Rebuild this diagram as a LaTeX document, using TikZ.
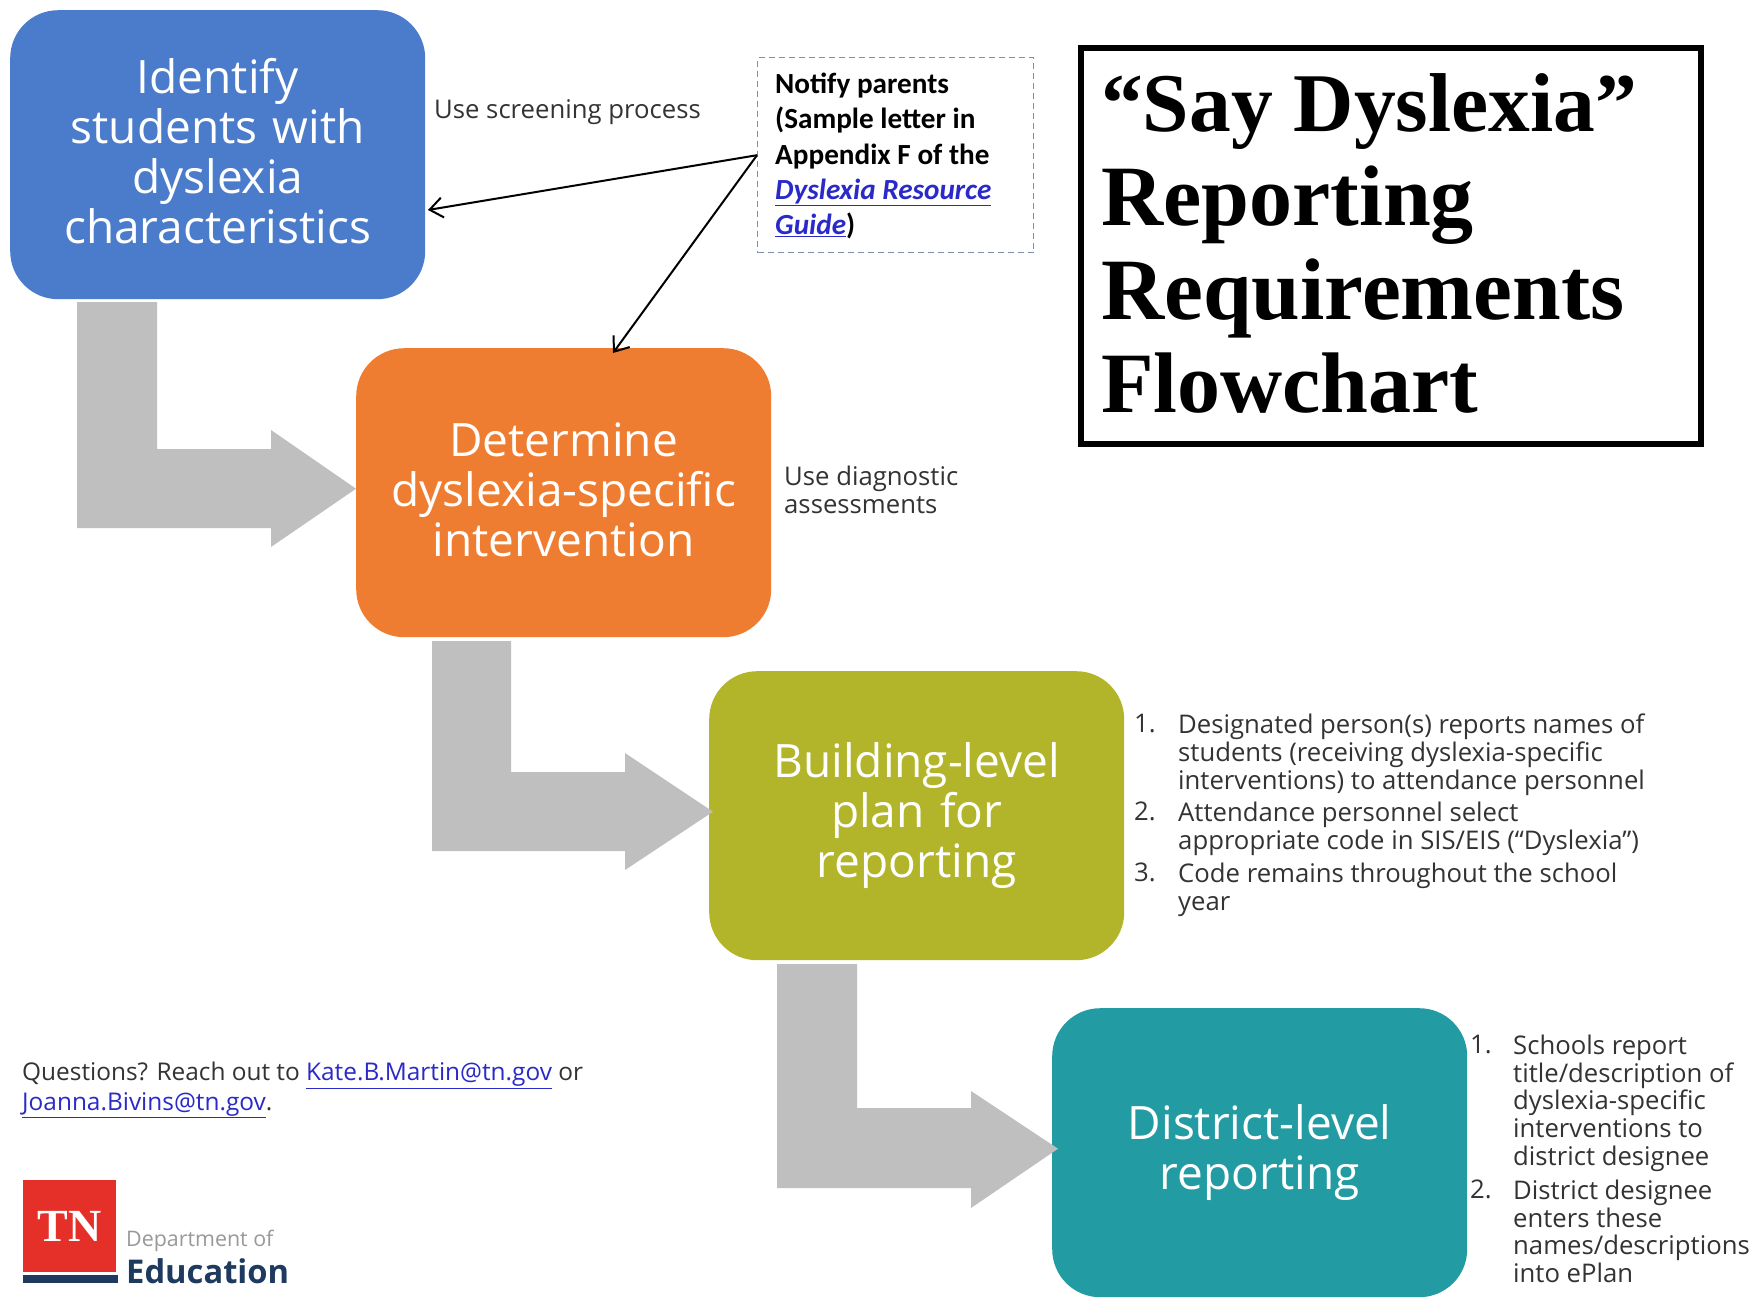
\documentclass[tikz,border=0pt]{standalone}
\usepackage{fontspec}
\setmainfont{Open Sans}
\newfontfamily\titlefont{Liberation Serif}
\newfontfamily\calfont{Carlito}
\usetikzlibrary{arrows.meta}
\definecolor{cblue}{HTML}{4A7CCB}
\definecolor{corange}{HTML}{EE7D31}
\definecolor{colive}{HTML}{B2B52A}
\definecolor{cteal}{HTML}{239BA3}
\definecolor{cgrey}{HTML}{BFBFBF}
\definecolor{ctext}{HTML}{333333}
\definecolor{clink}{HTML}{2A2AC8}
\definecolor{cnavy}{HTML}{1E3A5F}
\definecolor{cred}{HTML}{E5302A}
\definecolor{cdash}{HTML}{7F8FA8}
\tikzset{
 x=1pt,y=-1pt,
 flowbox/.style={rounded corners=48pt,minimum width=415pt,text width=415pt,minimum height=289pt,inner sep=0pt,align=center,text=white,font=\fontsize{46}{50}\selectfont},
 bent/.style={fill=cgrey,draw=none},
 note/.style={anchor=north west,inner sep=0pt,align=left,text=ctext,font=\fontsize{25.7}{27.6}\selectfont},
 num/.style={anchor=north west,inner sep=0pt,text=ctext,font=\fontsize{25.7}{27.6}\selectfont},
 pointer/.style={draw=black,line width=2pt,-{Straight Barb[length=13pt,width=20pt,line width=2pt]}},
 titleline/.style={anchor=base west,inner sep=0pt}
}
\newcommand{\lnk}[1]{\textcolor{clink}{\underline{#1}}}
\newcommand{\ttl}[1]{\titlefont\bfseries\fontsize{#1}{94}\selectfont}
\begin{document}
\begin{tikzpicture}
\useasboundingbox (0,0) rectangle (1754,1299);
\fill[white] (0,0) rectangle (1754,1299);
% boxes
\node[flowbox,fill=cblue,anchor=north west] (blue) at (10,10) {Identify\\students with\\dyslexia\\characteristics\rule[-7pt]{0pt}{7pt}};
\node[flowbox,fill=corange,anchor=north west] (orange) at (356,348) {Determine\\dyslexia-specific\\intervention\rule[-6pt]{0pt}{6pt}};
\node[flowbox,fill=colive,anchor=north west] (olive) at (709,671) {Building-level\\plan for\\reporting};
\node[flowbox,fill=cteal,anchor=north west] (teal) at (1052,1008) {District-level\\reporting};
% grey arrows
\fill[bent] (77,302) -- (157,302) -- (157,449) -- (271,449) -- (271,430) -- ([yshift=4pt]orange.west) -- (271,547) -- (271,528) -- (77,528) -- cycle;
\fill[bent] (432,641) -- (511,641) -- (511,772) -- (625,772) -- (625,753) -- ([xshift=4pt,yshift=4pt]olive.west) -- (625,870) -- (625,851) -- (432,851) -- cycle;
\fill[bent] (777,964) -- (857,964) -- (857,1108) -- (971,1108) -- (971,1091) -- ([xshift=6pt,yshift=4pt]teal.west) -- (971,1208) -- (971,1188) -- (777,1188) -- cycle;
% side labels
\node[note] (screen) at (434,99) {Use screening process};
\node[note] (diag) at (784,466) {Use diagnostic\\assessments};
% notify
\node[draw=cdash,dash pattern=on 6pt off 4pt,line width=1.4pt,anchor=north west,minimum width=276pt,minimum height=195pt,inner sep=0pt] (notify) at (757,57) {};
\node[anchor=north west,inner sep=0pt,align=left,font=\calfont\bfseries\fontsize{29.2}{35.2}\selectfont] (notifytext) at (775,73) {Notify parents\\(Sample letter in\\Appendix F of the\\\lnk{\textit{Dyslexia Resource}}\\\lnk{\textit{Guide}})};
\coordinate (blueport) at (428,210);
\coordinate (orangeport) at (613,353);
\draw[pointer] (notify.west) -- (blueport);
\draw[pointer] (notify.west) -- (orangeport);
% title
\node[draw=black,line width=5.5pt,anchor=north west,minimum width=620pt,minimum height=396pt,inner sep=0pt] (titlebox) at (1078,45) {};
\node[titleline,font=\ttl{83.5}] (t1) at (1101,131) {“Say Dyslexia”};
\node[titleline,font=\ttl{86}] (t2) at (1101,225) {Reporting};
\node[titleline,font=\ttl{87.5}] (t3) at (1101,319) {Requirements};
\node[titleline,font=\ttl{86}] (t4) at (1101,412) {Flowchart};
% olive list
\node[num] (n1) at (1134,714) {1.};
\node[note] (l1) at (1178,714) {Designated person(s) reports names of\\students (receiving dyslexia-specific\\interventions) to attendance personnel};
\node[num] (n2) at (1134,802) {2.};
\node[note] (l2) at (1178,802) {Attendance personnel select\\appropriate code in SIS/EIS (“Dyslexia”)};
\node[num] (n3) at (1134,863) {3.};
\node[note] (l3) at (1178,863) {Code remains throughout the school\\year};
% teal list
\node[num] (m1) at (1470,1035) {1.};
\node[note] (k1) at (1513,1035) {Schools report\\title/description of\\dyslexia-specific\\interventions to\\district designee};
\node[num] (m2) at (1470,1180) {2.};
\node[note] (k2) at (1513,1180) {District designee\\enters these\\names/descriptions\\into ePlan};
% questions
\node[note,font=\fontsize{24.4}{29.5}\selectfont] (q) at (22,1062) {Questions? Reach out to \lnk{Kate.B.Martin@tn.gov} or\\\lnk{Joanna.Bivins@tn.gov}.};
% logo
\node[fill=cred,minimum width=93pt,minimum height=92pt,inner sep=0pt,anchor=north west,text=white,font=\titlefont\bfseries\fontsize{46}{46}\selectfont] (logo) at (23,1180) {TN};
\fill[cnavy] (23,1275) rectangle (118,1283);
\node[anchor=base west,inner sep=0pt,text=black!40,font=\fontsize{21.4}{22}\selectfont] (dept) at (126,1246) {Department of};
\node[anchor=base west,inner sep=0pt,text=cnavy,font=\bfseries\fontsize{32.7}{35}\selectfont] (edu) at (126,1283) {Education};
\end{tikzpicture}
\end{document}
